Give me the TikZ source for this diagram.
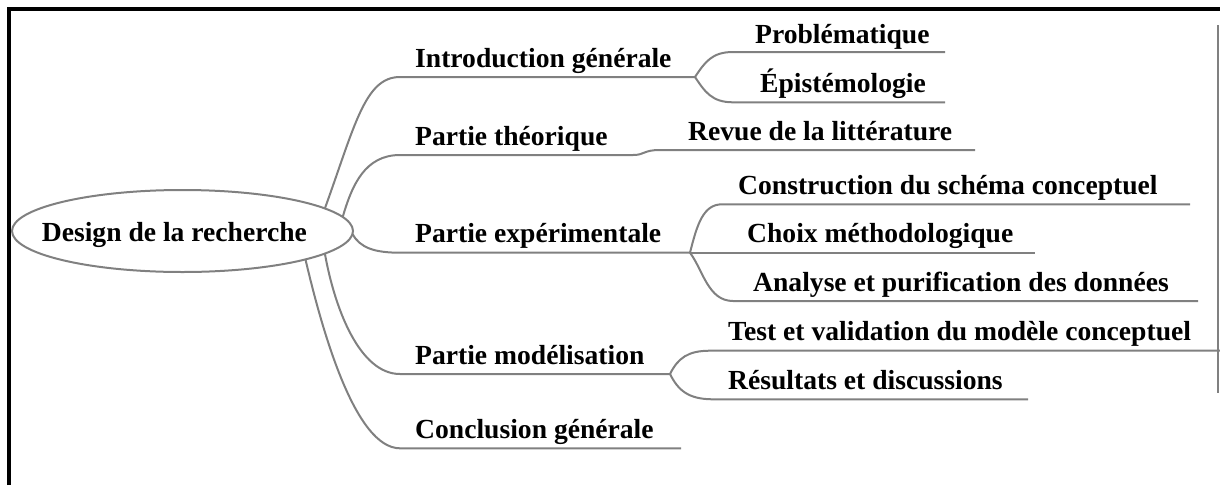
\documentclass[tikz,border=0pt]{standalone}
\usepackage{fontspec}
\setmainfont{Liberation Serif}
\usetikzlibrary{shapes.geometric}
\definecolor{branchgray}{RGB}{128,128,128}
\begin{document}
\begin{tikzpicture}[x=1pt,y=-1pt,
  branch/.style={draw=branchgray,line width=2pt},
  label/.style={anchor=base west,inner sep=0pt,text=black,
    font=\fontsize{27.6}{30}\selectfont\bfseries},
  rootshape/.style={ellipse,draw=branchgray,line width=2pt,
    minimum width=341pt,minimum height=82pt,inner sep=0pt,outer sep=0pt}]
\useasboundingbox (0,0) rectangle (1220,485);

% frame
\draw[line width=3.7pt] (9.2,485) -- (9.2,9.2) -- (1220,9.2);
\draw[draw=branchgray,line width=1.5pt] (1217.8,25) -- (1217.8,393);

% root
\node[rootshape] (root) at (182.5,231) {};
\node[label] (roottext) at (41.7,241.7) {Design de la recherche};

% first level labels
\node[label] (intro)  at (415,67)    {Introduction générale};
\node[label] (theo)   at (415,145)   {Partie théorique};
\node[label] (exper)  at (415,242)   {Partie expérimentale};
\node[label] (modeli) at (415,364)   {Partie modélisation};
\node[label] (concl)  at (415,438.5) {Conclusion générale};

% second level labels
\node[label] (prob)    at (755,43)    {Problématique};
\node[label] (epis)    at (760,92.5)  {Épistémologie};
\node[label] (revue)   at (688,140)   {Revue de la littérature};
\node[label] (constr)  at (738,194)   {Construction du schéma conceptuel};
\node[label] (choix)   at (747,242)   {Choix méthodologique};
\node[label] (analyse) at (753,291.5) {Analyse et purification des données};
\node[label] (test)    at (728,340.5) {Test et validation du modèle conceptuel};
\node[label] (result)  at (728,389)   {Résultats et discussions};

% underline end points
\coordinate (introS) at (400,77);    \coordinate (introF) at (695,77);
\coordinate (theoS)  at (400,155);   \coordinate (theoF)  at (633,155);
\coordinate (experS) at (400,252.7); \coordinate (experF) at (690,252.7);
\coordinate (modS)   at (400,374);   \coordinate (modF)   at (670,374);
\coordinate (conS)   at (400,448.3); \coordinate (conE)   at (681,448.3);

\coordinate (probS) at (733,52);      \coordinate (probE) at (945,52);
\coordinate (episS) at (733,102.3);   \coordinate (episE) at (945,102.3);
\coordinate (revS)  at (660,150);     \coordinate (revE)  at (975,150);
\coordinate (conS2) at (722,204.3);   \coordinate (conE2) at (1190,204.3);
\coordinate (choE)  at (1035,252.7);
\coordinate (anaS)  at (733,301);     \coordinate (anaE)  at (1198,301);
\coordinate (testS) at (710,350.7);   \coordinate (testE) at (1220,350.7);
\coordinate (resS)  at (713,399.3);   \coordinate (resE)  at (1028,399.3);

% first level branches
\draw[branch] (root.9.7) .. controls (355,125) and (365,77) .. (introS) -- (introF);
\draw[branch] (root.5) .. controls (352,185) and (365,155) .. (theoS) -- (theoF);
\draw[branch] (root.-1.7) .. controls (360,248) and (375,252.7) .. (experS) -- (experF);
\draw[branch] (root.-9) .. controls (335,310) and (360,374) .. (modS) -- (modF);
\draw[branch] (root.-13.8) .. controls (322,330) and (355,448.3) .. (conS) -- (conE);

% second level branches
\draw[branch] (introF) .. controls (705,62) and (712,52) .. (probS) -- (probE);
\draw[branch] (introF) .. controls (705,92) and (712,102.3) .. (episS) -- (episE);
\draw[branch] (theoF) .. controls (645,155) and (643,150) .. (revS) -- (revE);
\draw[branch] (experF) .. controls (697,225) and (703,204.3) .. (conS2) -- (conE2);
\draw[branch] (experF) -- (choE);
\draw[branch] (experF) .. controls (703,270) and (708,301) .. (anaS) -- (anaE);
\draw[branch] (modF) .. controls (678,358) and (688,350.7) .. (testS) -- (testE);
\draw[branch] (modF) .. controls (678,390) and (688,399.3) .. (resS) -- (resE);
\end{tikzpicture}
\end{document}
